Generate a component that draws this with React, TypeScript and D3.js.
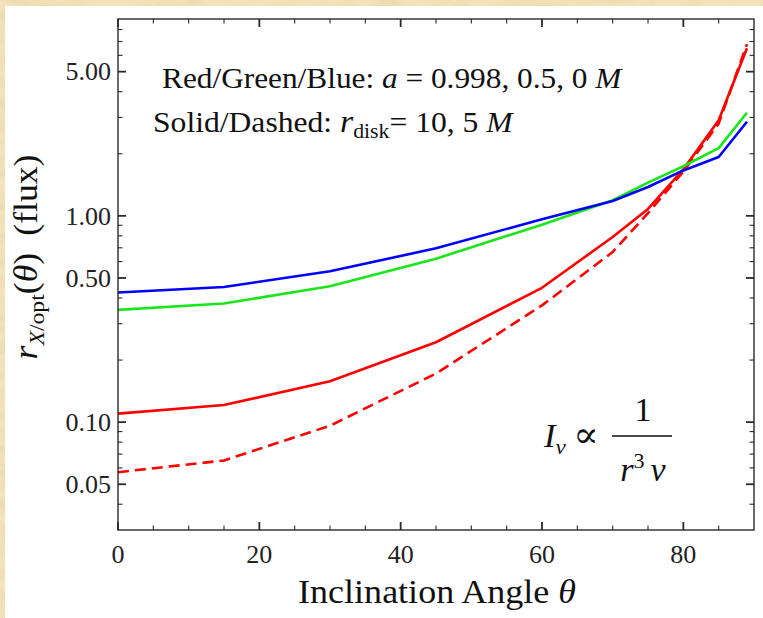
import React from 'react';
import * as d3 from 'd3';

// ---- data ----
const angles = [0, 15, 30, 45, 60, 70, 75, 80, 85, 89];
const redSolid = [0.110, 0.121, 0.158, 0.244, 0.448, 0.79, 1.08, 1.68, 2.91, 6.49];
const redDashed = [0.0572, 0.0652, 0.0961, 0.172, 0.368, 0.668, 1.03, 1.64, 2.80, 6.8];
const greenSolid = [0.350, 0.376, 0.456, 0.620, 0.906, 1.19, 1.45, 1.74, 2.13, 3.16];
const blueSolid = [0.425, 0.452, 0.539, 0.696, 0.963, 1.18, 1.38, 1.66, 1.93, 2.86];

const xMajorTicks = [0, 20, 40, 60, 80];
const xMinorTicks = [5, 10, 15, 25, 30, 35, 45, 50, 55, 65, 70, 75, 85];
const yMajorTicks = [0.05, 0.1, 0.5, 1, 5];
const yMajorLabels = ['0.05', '0.10', '0.50', '1.00', '5.00'];
const yMinorTicks = [0.04, 0.06, 0.07, 0.08, 0.09, 0.2, 0.3, 0.4, 0.6, 0.7, 0.8, 0.9, 2, 3, 4, 6, 7, 8];

const series = [
  { name: 'red solid', values: redSolid, color: '#ff0000', dash: undefined as string | undefined },
  { name: 'red dashed', values: redDashed, color: '#ff0000', dash: '11 6' },
  { name: 'green', values: greenSolid, color: '#19e619', dash: undefined },
  { name: 'blue', values: blueSolid, color: '#0000ff', dash: undefined },
];

const W = 763;
const H = 618;
const L = 118, R = 754, T = 19, B = 530;
const FONT = '"Liberation Serif", "Times New Roman", "DejaVu Serif", serif';

export default function App() {
  const x = d3.scaleLinear().domain([0, 90]).range([L, R]);
  const y = d3.scaleLog().domain([0.03, 9]).range([B, T]);
  const line = d3
    .line<[number, number]>()
    .x((d) => x(d[0]))
    .y((d) => y(d[1]));

  const axisColor = '#2a2a2a';
  const majorLen = 8;
  const minorLen = 4.5;

  return (
    <svg
      width={W}
      height={H}
      style={{ position: 'absolute', left: 0, top: 0, display: 'block' }}
      fontFamily={FONT}
    >
      <defs>
        <filter id="parch" x="0" y="0" width="100%" height="100%">
          <feTurbulence type="fractalNoise" baseFrequency="0.035 0.09" numOctaves="3" seed="7" result="n" />
          <feColorMatrix
            in="n"
            type="matrix"
            values="0 0 0 0 0.80  0 0 0 0 0.66  0 0 0 0 0.40  0 0 0 1.6 -0.55"
          />
        </filter>
        <clipPath id="plotClip">
          <rect x={L} y={T} width={R - L} height={B - T} />
        </clipPath>
      </defs>

      {/* parchment background */}
      <rect x={0} y={0} width={W} height={H} fill="#f4e3ba" />
      <rect x={0} y={0} width={W} height={H} filter="url(#parch)" opacity={0.8} />
      {/* white panel */}
      <rect x={5} y={6} width={W - 5} height={H - 6} fill="#ffffff" />

      {/* curves */}
      <g clipPath="url(#plotClip)">
        {series.map((s) => (
          <path
            key={s.name}
            d={line(angles.map((a, i) => [a, s.values[i]] as [number, number])) || ''}
            fill="none"
            stroke={s.color}
            strokeWidth={2.6}
            strokeDasharray={s.dash}
            strokeLinejoin="round"
          />
        ))}
      </g>

      {/* frame */}
      <rect x={L} y={T} width={R - L} height={B - T} fill="none" stroke={axisColor} strokeWidth={1.4} />

      {/* x ticks bottom and top */}
      {xMajorTicks.map((t) => (
        <g key={'xM' + t}>
          <line x1={x(t)} x2={x(t)} y1={B} y2={B - majorLen} stroke={axisColor} strokeWidth={1.8} />
          <line x1={x(t)} x2={x(t)} y1={T} y2={T + majorLen} stroke={axisColor} strokeWidth={1.8} />
          <text x={x(t)} y={563} textAnchor="middle" fontSize={26} fill="#222">
            {t}
          </text>
        </g>
      ))}
      {xMinorTicks.map((t) => (
        <g key={'xm' + t}>
          <line x1={x(t)} x2={x(t)} y1={B} y2={B - minorLen} stroke={axisColor} strokeWidth={1.1} />
          <line x1={x(t)} x2={x(t)} y1={T} y2={T + minorLen} stroke={axisColor} strokeWidth={1.1} />
        </g>
      ))}

      {/* y ticks left and right */}
      {yMajorTicks.map((t, i) => (
        <g key={'yM' + t}>
          <line x1={L} x2={L + majorLen} y1={y(t)} y2={y(t)} stroke={axisColor} strokeWidth={1.8} />
          <line x1={R} x2={R - majorLen} y1={y(t)} y2={y(t)} stroke={axisColor} strokeWidth={1.8} />
          <text x={L - 7} y={y(t)} dy="0.34em" textAnchor="end" fontSize={26} fill="#222">
            {yMajorLabels[i]}
          </text>
        </g>
      ))}
      {yMinorTicks.map((t) => (
        <g key={'ym' + t}>
          <line x1={L} x2={L + minorLen} y1={y(t)} y2={y(t)} stroke={axisColor} strokeWidth={1.1} />
          <line x1={R} x2={R - minorLen} y1={y(t)} y2={y(t)} stroke={axisColor} strokeWidth={1.1} />
        </g>
      ))}

      {/* axis titles */}
      <text transform="translate(437,603) scale(1.06,1)" textAnchor="middle" fontSize={34} fill="#111">
        Inclination Angle <tspan fontStyle="italic">θ</tspan>
      </text>
      <text transform="translate(37,257) rotate(-90) scale(1.08,1)" textAnchor="middle" fontSize={33} fill="#111">
        <tspan fontStyle="italic">r</tspan>
        <tspan fontSize={22} dy={7}>
          <tspan fontStyle="italic">X</tspan>/opt
        </tspan>
        <tspan dy={-7}>(</tspan>
        <tspan fontStyle="italic">θ</tspan>
        <tspan>)</tspan>
        <tspan dx={16}>(flux)</tspan>
      </text>

      {/* annotations */}
      <text transform="translate(162,88) scale(1.08,1)" fontSize={29} fill="#111">
        Red/Green/Blue: <tspan fontStyle="italic">a</tspan> = 0.998, 0.5, 0 <tspan fontStyle="italic">M</tspan>
      </text>
      <text transform="translate(153,132) scale(1.09,1)" fontSize={29} fill="#111">
        Solid/Dashed: <tspan fontStyle="italic" fontSize={31}>r</tspan>
        <tspan fontSize={20} dy={6}>disk</tspan>
        <tspan dy={-6}>= 10, 5 </tspan>
        <tspan fontStyle="italic">M</tspan>
      </text>

      {/* formula */}
      <text transform="translate(544,447) scale(1.05,1)" fontSize={33} fill="#111">
        <tspan fontStyle="italic">I</tspan>
        <tspan fontStyle="italic" fontSize={22} dy={7}>ν</tspan>
        <tspan dy={-7} dx={7} fontSize={36}>∝</tspan>
      </text>
      <line x1={612} x2={672} y1={436} y2={436} stroke="#111" strokeWidth={1.6} />
      <text x={643} y={421} textAnchor="middle" fontSize={34} fill="#111">1</text>
      <text x={643} y={481} textAnchor="middle" fontSize={34} fill="#111">
        <tspan fontStyle="italic">r</tspan>
        <tspan fontSize={22} dy={-13}>3</tspan>
        <tspan dy={13} dx={6} fontStyle="italic">ν</tspan>
      </text>
    </svg>
  );
}
